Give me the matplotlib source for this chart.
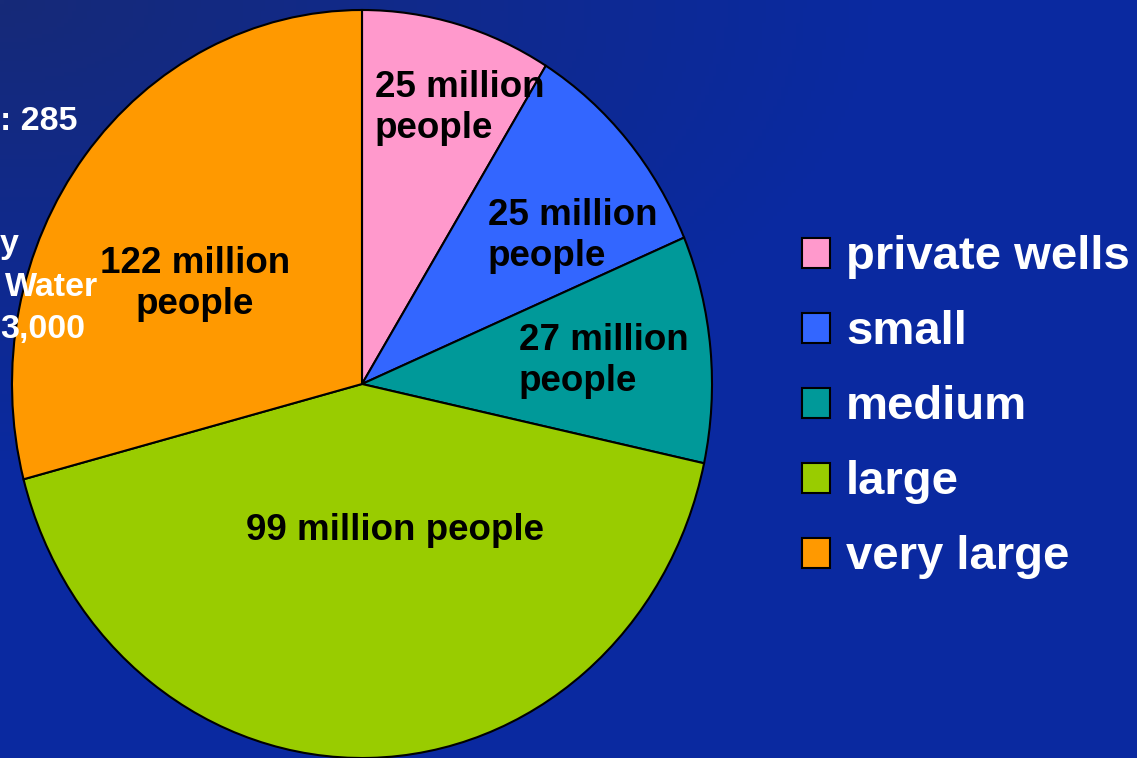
import numpy as np
import matplotlib.pyplot as plt
from matplotlib.colors import LinearSegmentedColormap
from matplotlib.patches import Rectangle

# Data (slice shares, labels as printed)
categories = ['private wells', 'small', 'medium', 'large', 'very large']
shares = [8.8, 9.8, 9.8, 42.5, 29.1]
slice_labels = ['25 million\npeople', '25 million\npeople', '27 million\npeople',
                '99 million people', '122 million\npeople']
colors = ['#ff99cc', '#3366ff', '#009999', '#99cc00', '#ff9900']

W, H = 1137, 758
fig = plt.figure(figsize=(W / 100, H / 100), dpi=100)

# background: dark navy top-left fading into royal blue
bg = fig.add_axes([0, 0, 1, 1])
bg.axis('off')
yy, xx = np.mgrid[0:1:200j, 0:1:300j]
g = np.clip(1.0 - np.sqrt((xx * 1.3) ** 2 + (yy * 1.6) ** 2), 0, 1)
cmap = LinearSegmentedColormap.from_list('bgc', ['#0a29a0', '#162a78'])
bg.imshow(g, cmap=cmap, aspect='auto', extent=[0, 1, 0, 1], origin='upper')
bg.set_xlim(0, 1)
bg.set_ylim(0, 1)

FONT = 'Liberation Sans'

# visible fragments of the slide's left-hand notes (white)
notes = [(': 285', 0, 121), ('y', 0, 244), ('Water', 5, 288), ('3,000', 0, 329)]

# pie axes, slightly taller than wide like the original
cx, cy, rx, ry = 362, 384, 350, 374
ax = fig.add_axes([(cx - rx) / W, (H - cy - ry) / H, 2 * rx / W, 2 * ry / H])
wedges, _ = ax.pie(shares, colors=colors, startangle=90, counterclock=False,
                   wedgeprops=dict(edgecolor='black', linewidth=1.5))
ax.set_aspect('auto')
ax.set_xlim(-1, 1)
ax.set_ylim(-1, 1)
ax.axis('off')

def to_ax(px, py):
    return (px - cx) / rx, (cy - py) / ry

label_pos = [(375, 108, 'left'), (488, 236, 'left'), (519, 361, 'left'),
             (395, 530, 'center'), (195, 284, 'center')]
for txt, (px, py, ha) in zip(slice_labels, label_pos):
    x, y = to_ax(px, py)
    ax.text(x, y, txt, ha=ha, va='center', ma=ha, fontsize=26.5, fontweight='bold',
            family=FONT, color='black', linespacing=1.2)

for txt, px, py in notes:
    fig.text(px / W, 1 - py / H, txt, ha='left', va='center', fontsize=24.5,
             fontweight='bold', family=FONT, color='white', zorder=10)

# legend drawn by hand to match the slide
for i, (cat, col) in enumerate(zip(categories, colors)):
    py = 253 + i * 75
    fig.patches.append(Rectangle((802 / W, 1 - (py + 15) / H), 28 / W, 30 / H,
                                 transform=fig.transFigure, facecolor=col,
                                 edgecolor='black', linewidth=1.5))
    fig.text(846 / W, 1 - (py + 4) / H, cat, ha='left', va='center', fontsize=34,
             fontweight='bold', family=FONT, color='white')

fig.savefig('out.png', dpi=100)
